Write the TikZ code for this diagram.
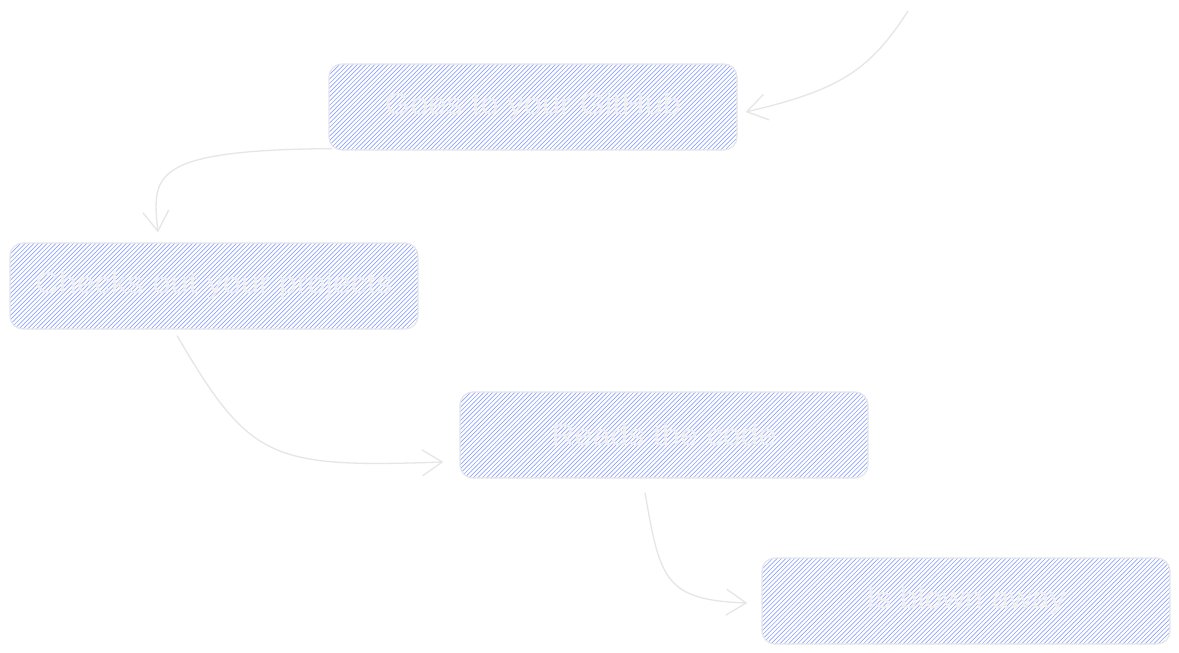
\documentclass[tikz,border=0pt]{standalone}
\usepackage{fontspec}
\setmainfont{Liberation Sans}
\usetikzlibrary{arrows.meta}
\definecolor{hachblue}{HTML}{8FA4FF}
\definecolor{edgegray}{HTML}{E6E6E6}
\definecolor{textgray}{HTML}{F0F0F0}
\newcommand{\fitw}[2]{\resizebox{#1}{\height}{#2}}
\tikzset{
  flowbox/.style={draw=edgegray, line width=1.2pt, rounded corners=13pt,
    minimum width=408pt, minimum height=86pt, inner sep=0pt,
    text=textgray, font=\fontsize{30}{32}\selectfont,
    path picture={
      \foreach \i in {-90,-85.6,...,420}{
        \draw[hachblue, line width=0.65pt]
          ([xshift=\i pt, yshift=-2pt]path picture bounding box.south west) -- ++(94pt,94pt);
      }
    }},
  flowarrow/.style={draw=edgegray, line width=1.3pt,
    -{Straight Barb[length=20pt,width=26pt,line width=1.3pt]}}
}
\begin{document}
\begin{tikzpicture}[x=1pt,y=-1pt]
\useasboundingbox (0,0) rectangle (1179,653);
\fill[white] (0,0) rectangle (1179,653);
\node[flowbox] (b1) at (533,107) {\fitw{296pt}{Goes to your GitHub}};
\node[flowbox] (b2) at (214,286) {\fitw{357pt}{Checks out your projects}};
\node[flowbox] (b3) at (664,435) {\fitw{225pt}{Reads the code}};
\node[flowbox] (b4) at (966,601) {\fitw{199pt}{Is blown away}};
\coordinate (start) at (908,11);
\draw[flowarrow] (start) .. controls (870,70) and (840,90) .. ([xshift=8pt,yshift=-5pt]b1.east);
\draw[flowarrow] ([xshift=4pt,yshift=2pt]b1.south west) .. controls (150,150) and (152,175) .. ([xshift=-56pt,yshift=10pt]b2.north);
\draw[flowarrow] ([xshift=-37pt,yshift=-6pt]b2.south) .. controls (250,460) and (270,468) .. ([xshift=-16pt,yshift=-27pt]b3.west);
\draw[flowarrow] ([xshift=-19pt,yshift=-14pt]b3.south) .. controls (660,580) and (665,600) .. ([xshift=-14pt,yshift=-2pt]b4.west);
\end{tikzpicture}
\end{document}
